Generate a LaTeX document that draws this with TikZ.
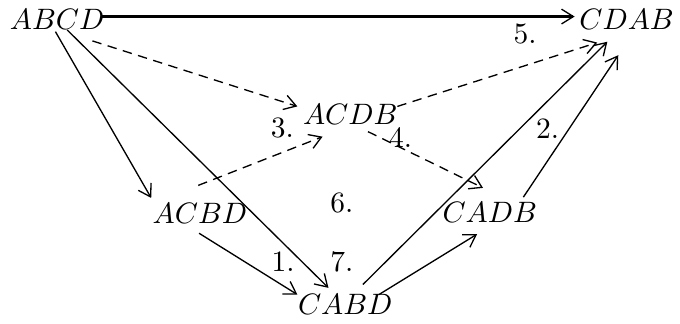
\documentclass[tikz,border=0pt]{standalone}
\usepackage{amsmath, amssymb}
\usetikzlibrary{positioning,arrows.meta}

\begin{document}
\begin{tikzpicture}[
      perm/.style={inner sep=2pt},
      lbl/.style={inner sep=0pt},
      edge/.style={-{Straight Barb[length=4pt,width=5pt,line width=0.45pt]},line width=0.45pt},
      dedge/.style={edge,dash pattern=on 3.2pt off 2.2pt}
    ]
    \useasboundingbox (0,0) rectangle (8.095,3.857);
    % permutations
    \node[perm] (abcd) at (0.68,3.62) {$ABCD$};
    \node[perm] (cdab) at (7.46,3.62) {$CDAB$};
    \node[perm] (acdb) at (4.17,2.49) {$ACDB$};
    \node[perm] (acbd) at (2.38,1.32) {$ACBD$};
    \node[perm] (cadb) at (5.83,1.33) {$CADB$};
    \node[perm] (cabd) at (4.11,0.23) {$CABD$};
    % numbers
    \node[lbl] (n1) at (3.37,0.74) {1.};
    \node[lbl] (n2) at (6.52,2.32) {2.};
    \node[lbl] (n3) at (3.36,2.33) {3.};
    \node[lbl] (n4) at (4.77,2.22) {4.};
    \node[lbl] (n5) at (6.25,3.45) {5.};
    \node[lbl] (n6) at (4.07,1.44) {6.};
    \node[lbl] (n7) at (4.07,0.74) {7.};
    % moves
    \draw[edge,line width=1.25pt] ([shift={(0.54,0.04)}]abcd.center)
      -- ([shift={(-0.62,0.04)}]cdab.center);
    \draw[dedge] ([shift={(0.42,-0.25)}]abcd.center)
      -- ([shift={(-0.63,0.10)}]acdb.center);
    \draw[dedge] ([shift={(-0.02,0.33)}]acbd.center)
      -- ([shift={(-0.33,-0.26)}]acdb.center);
    \draw[dedge] ([shift={(0.56,0.10)}]acdb.center)
      -- ([shift={(-0.35,-0.27)}]cdab.center);
    \draw[dedge] ([shift={(0.21,-0.20)}]acdb.center)
      -- ([shift={(-0.08,0.29)}]cadb.center);
    \draw[edge] ([shift={(-0.02,-0.14)}]abcd.center)
      -- ([shift={(-0.58,0.18)}]acbd.center);
    \draw[edge] ([shift={(0.12,-0.12)}]abcd.center)
      -- ([shift={(-0.20,0.20)}]cabd.center);
    \draw[edge] ([shift={(-0.01,-0.24)}]acbd.center)
      -- ([shift={(-0.57,0.12)}]cabd.center);
    \draw[edge] ([shift={(0.40,0.12)}]cabd.center)
      -- ([shift={(-0.15,-0.26)}]cadb.center);
    \draw[edge] ([shift={(0.21,0.24)}]cabd.center)
      -- ([shift={(-0.23,-0.26)}]cdab.center);
    \draw[edge] ([shift={(0.40,0.18)}]cadb.center)
      -- ([shift={(-0.10,-0.42)}]cdab.center);
  \end{tikzpicture}
\end{document}
